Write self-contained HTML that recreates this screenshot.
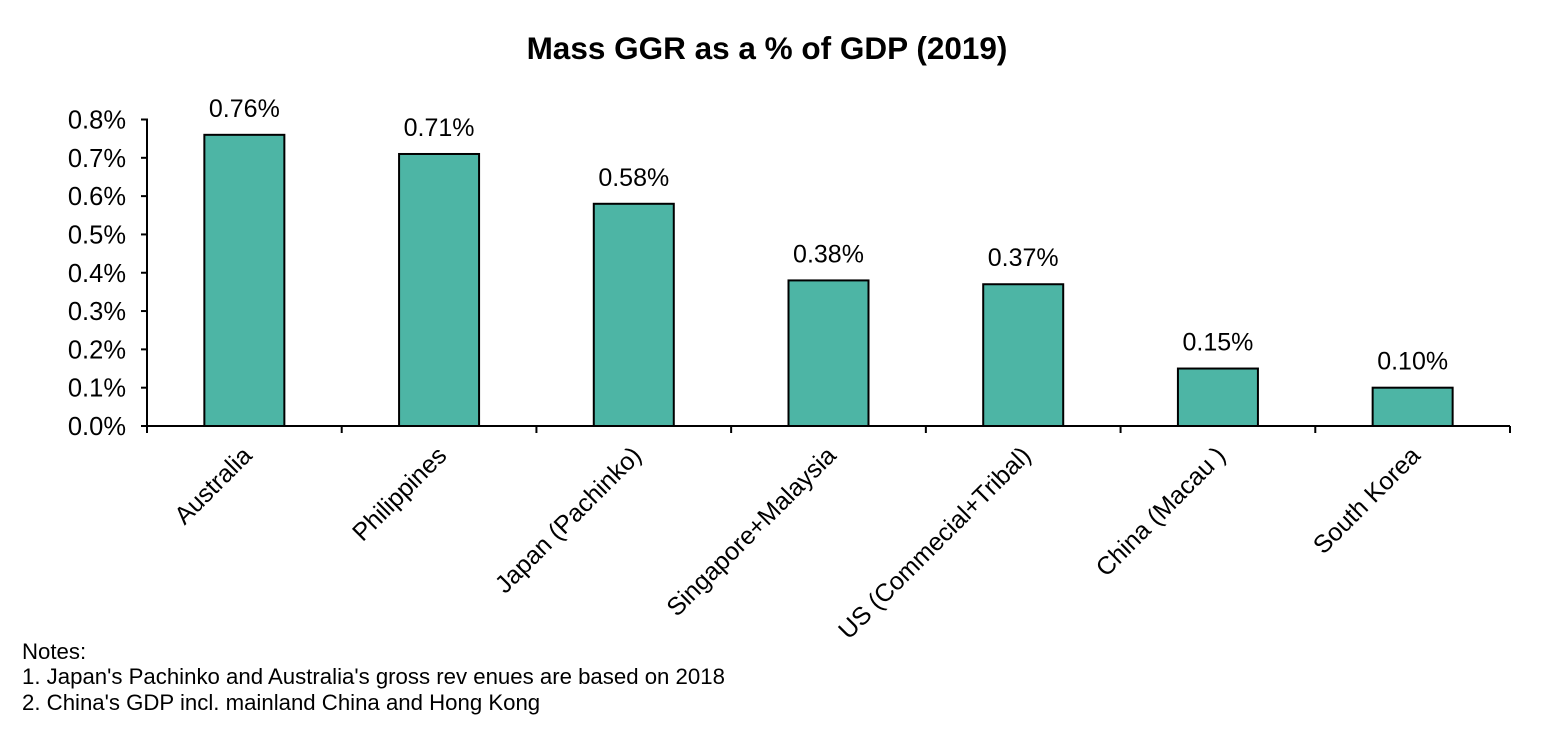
<!DOCTYPE html>
<html><head><meta charset="utf-8"><style>
body{margin:0;background:#fff;width:1566px;height:740px;overflow:hidden;font-family:"Liberation Sans",Arial,sans-serif}
</style></head><body>
<svg width="1566" height="740" font-family="Liberation Sans, Arial, sans-serif">
<text x="767" y="59" text-anchor="middle" font-size="31.5" font-weight="bold">Mass GGR as a % of GDP (2019)</text>
<g id="plot"></g>
<g font-size="22.2">
<text x="22" y="659">Notes:</text>
<text x="22" y="684">1. Japan's Pachinko and Australia's gross rev enues are based on 2018</text>
<text x="22" y="710">2. China's GDP incl. mainland China and Hong Kong</text>
</g>
</svg>
<script>
const categories=["Australia","Philippines","Japan (Pachinko)","Singapore+Malaysia","US (Commecial+Tribal)","China (Macau )","South Korea"];
const values=[0.76,0.71,0.58,0.38,0.37,0.15,0.10];
const valueLabels=["0.76%","0.71%","0.58%","0.38%","0.37%","0.15%","0.10%"];
const ticks=[0,0.1,0.2,0.3,0.4,0.5,0.6,0.7,0.8];
const tickLabels=["0.0%","0.1%","0.2%","0.3%","0.4%","0.5%","0.6%","0.7%","0.8%"];
const NS="http://www.w3.org/2000/svg";
const g=document.getElementById('plot');
const x0=147,x1=1510,y0=426,y8=119.5;
const yS=v=>y0-(v/0.8)*(y0-y8);
const bw=(x1-x0)/categories.length;
const xC=i=>x0+bw*(i+0.5);
function el(t,a){const e=document.createElementNS(NS,t);for(const k in a)e.setAttribute(k,a[k]);g.appendChild(e);return e;}
ticks.forEach((t,i)=>{
 const l=el('line',{x1:x0-6,x2:x0,y1:yS(t),y2:yS(t),stroke:'#000','stroke-width':2});
 
 
 const tx=el('text',{x:x0-21,y:yS(t)+9,'text-anchor':'end','font-size':25.5});
 tx.textContent=tickLabels[i];
 
 
});
values.forEach((v,i)=>{
 const r=el('rect',{x:xC(i)-40,y:yS(v),width:80,height:y0-yS(v),fill:'#4db5a5',stroke:'#000','stroke-width':2});
 
 
 const t=el('text',{x:xC(i),y:yS(v)-18,'text-anchor':'middle','font-size':25});
 t.textContent=valueLabels[i];
 
 
 const c=el('text',{x:0,y:0,'text-anchor':'end','font-size':25,transform:`translate(${xC(i)+9},${y0+31}) rotate(-45)`});
 c.textContent=categories[i];
 
 
});
for(let i=0;i<=categories.length;i++){
 const l=el('line',{x1:x0+bw*i,x2:x0+bw*i,y1:y0,y2:y0+7,stroke:'#000','stroke-width':2});
 
 
}
const ya=el('line',{x1:x0,x2:x0,y1:y8-1,y2:y0+7,stroke:'#000','stroke-width':2});


const xa=el('line',{x1:x0-6,x2:x1,y1:y0,y2:y0,stroke:'#000','stroke-width':2});


</script>
</body></html>
